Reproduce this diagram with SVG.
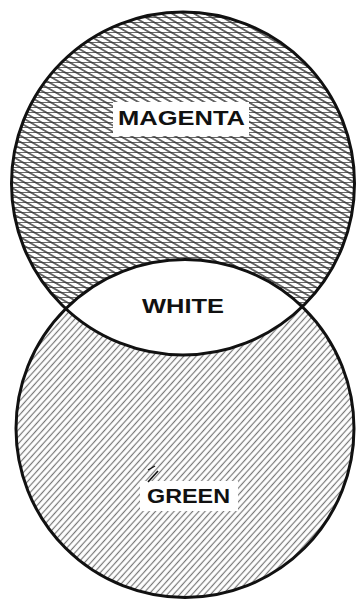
<svg xmlns="http://www.w3.org/2000/svg" width="363" height="600" viewBox="0 0 363 600">
  <style>
    .outline { fill: none; stroke: #111; stroke-width: 3; }
    .label { font-family: "Liberation Sans", "DejaVu Sans", sans-serif; font-weight: bold; font-size: 20px; fill: #111; }
  </style>
  <defs>
    <pattern id="hz" width="12" height="5" patternUnits="userSpaceOnUse">
      <line x1="0" y1="2.5" x2="12" y2="2.5" stroke="#666" stroke-width="1"/>
    </pattern>
    <pattern id="dg1" width="12" height="5.5" patternUnits="userSpaceOnUse" patternTransform="rotate(30)">
      <line x1="0" y1="2.75" x2="12" y2="2.75" stroke="#333" stroke-width="1.4"/>
    </pattern>
    <pattern id="dg2" width="12" height="4.6" patternUnits="userSpaceOnUse" patternTransform="rotate(-48)">
      <line x1="0" y1="2.3" x2="12" y2="2.3" stroke="#777" stroke-width="1.2"/>
    </pattern>
    <clipPath id="topClip">
      <circle cx="183" cy="183.5" r="171.5"/>
    </clipPath>
  </defs>

  <rect width="363" height="600" fill="#ffffff"/>

  <g id="magenta-circle">
    <circle cx="183" cy="183.5" r="171.5" fill="url(#hz)"/>
    <circle cx="183" cy="183.5" r="171.5" fill="url(#dg1)"/>
  </g>
  <g id="green-circle">
    <circle cx="185" cy="428.5" r="169" fill="#ffffff"/>
    <circle cx="185" cy="428.5" r="169" fill="url(#dg2)"/>
  </g>
  <g id="white-lens">
    <circle cx="185" cy="428.5" r="169" fill="#ffffff" clip-path="url(#topClip)"/>
  </g>
  <g id="outlines">
    <circle class="outline" cx="183" cy="183.5" r="171.5"/>
    <circle class="outline" cx="185" cy="428.5" r="169"/>
  </g>

  <g id="label-magenta">
    <rect x="113" y="102" width="136" height="34" fill="#ffffff"/>
    <text class="label" x="118" y="124.5" textLength="127" lengthAdjust="spacingAndGlyphs">MAGENTA</text>
  </g>
  <g id="label-white">
    <text class="label" x="142" y="313" textLength="82" lengthAdjust="spacingAndGlyphs">WHITE</text>
  </g>
  <g id="label-green">
    <rect x="140" y="481" width="98" height="30" fill="#ffffff"/>
    <text class="label" x="147" y="503" textLength="83" lengthAdjust="spacingAndGlyphs">GREEN</text>
    <line x1="148" y1="482" x2="158" y2="471" stroke="#111" stroke-width="1.6"/>
    <line x1="148" y1="470" x2="155" y2="466" stroke="#111" stroke-width="1.2"/>
  </g>
</svg>
